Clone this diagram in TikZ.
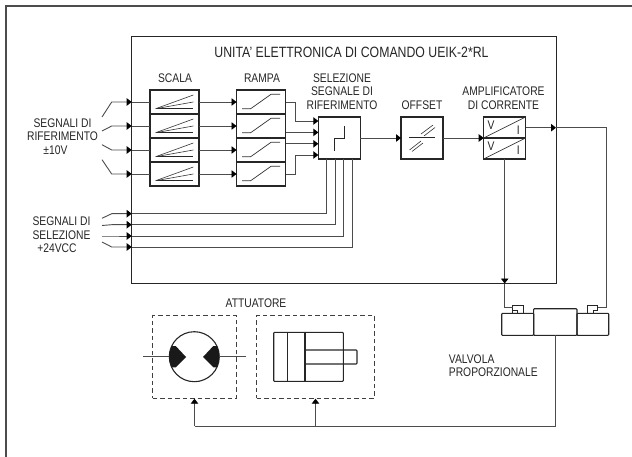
\documentclass[tikz,border=0pt]{standalone}
\usepackage{fontspec}
\setmainfont[FakeStretch=0.825]{Liberation Sans}
\usetikzlibrary{arrows.meta}

\begin{document}
\begin{tikzpicture}[%
  x=1pt, y=-1pt,
  line join=miter,
  lab/.style={inner sep=0pt, align=center, text=black!85, font=\fontsize{12.5}{13.4}\selectfont},
  conn/.style={line width=0.9pt, black!70},
  tip/.style={conn, -{Triangle[length=5pt,width=7.5pt,fill=black,color=black]}},
  box/.style={draw=black!85, line width=1.3pt, inner sep=0pt, outer sep=0pt, fill=white},
  scalabox/.style={box, minimum width=49pt, minimum height=24pt},
  rampabox/.style={box, minimum width=49pt, minimum height=24pt},
  squarebox/.style={box, minimum width=42pt, minimum height=42pt},
  dashbox/.style={draw=black!75, line width=0.8pt, dash pattern=on 4.5pt off 3pt, inner sep=0pt},
  partbox/.style={draw=black!85, line width=1.1pt, inner sep=0pt, outer sep=0pt, rounded corners=0.8pt},
  scalaicon/.pic={
    \draw[line width=1.4pt, black!85] (-18.8,6.7) -- (18.8,6.7);
    \draw[line width=0.6pt, black!80] (-18.8,6.7) -- (18.8,0);
    \draw[line width=0.6pt, black!80] (-18.8,6.7) -- (18.8,-7);
  },
  rampaicon/.pic={
    \draw[line width=0.7pt, black!80] (-19,6.7) -- (-10.3,6.7) -- (10,-7.7) -- (19,-7.7);
  }]

  \useasboundingbox (0,0) rectangle (632,457);
  \draw[line width=1.3pt, black!70] (6,457) -- (6,6) -- (632,6);

  % main unit
  \node[draw=black!85, line width=0.9pt, inner sep=0pt, outer sep=0pt,
    minimum width=424.5pt, minimum height=247.5pt] (unit) at (343.75,159.75) {};
  \node[lab, font=\fontsize{14.9}{16}\selectfont] (unitlab) at (351.5,52) {UNITA' ELETTRONICA DI COMANDO UEIK-2*RL};

  \node[lab] (scalalab) at (175,78) {SCALA};
  \node[lab] (rampalab) at (262,78) {RAMPA};
  \node[lab] (sellab) at (342,91.5) {SELEZIONE\\SEGNALE DI\\RIFERIMENTO};
  \node[lab] (offlab) at (422,105) {OFFSET};
  \node[lab] (amplab) at (503.5,98.3) {AMPLIFICATORE\\DI CORRENTE};
  \node[lab] (riflab) at (62.5,136.5) {SEGNALI DI\\RIFERIMENTO\\±10V\hspace*{14pt}};
  \node[lab] (sellab2) at (61.5,235) {SEGNALI DI\\SELEZIONE\\+24VCC\hspace*{9pt}};
  \node[lab] (attlab) at (256,303.5) {ATTUATORE};
  \node[lab, align=left, anchor=west] (vallab) at (448.7,365.5) {VALVOLA\\PROPORZIONALE};

  % scala and rampa blocks
  \node[scalabox] (scala1) at (174.5,102) {};
  \node[scalabox] (scala2) at (174.5,126) {};
  \node[scalabox] (scala3) at (174.5,150) {};
  \node[scalabox] (scala4) at (174.5,174) {};
  \pic at (scala1) {scalaicon};
  \pic at (scala2) {scalaicon};
  \pic at (scala3) {scalaicon};
  \pic at (scala4) {scalaicon};
  \node[rampabox] (rampa1) at (261,102) {};
  \node[rampabox] (rampa2) at (261,126) {};
  \node[rampabox] (rampa3) at (261,150) {};
  \node[rampabox] (rampa4) at (261,174) {};
  \pic at (rampa1) {rampaicon};
  \pic at (rampa2) {rampaicon};
  \pic at (rampa3) {rampaicon};
  \pic at (rampa4) {rampaicon};

  \node[squarebox] (sel) at (339.3,138) {};
  \node[squarebox, line width=1.8pt] (off) at (422,138) {};
  \node[squarebox] (amp) at (504.7,138) {};
  \draw[line width=1.3pt, black!85] (344.3,126) -- (344.3,138.3) -- (334.7,138.3) -- (334.7,151);
  \draw[line width=1.4pt, black!85] (409.3,137.7) -- (435,137.7);
  \draw[line width=0.6pt, black!80] (421,134) -- (433,125);
  \draw[line width=0.6pt, black!80] (424,136) -- (435,127.5);
  \draw[line width=0.6pt, black!80] (409.5,150) -- (421,141);
  \draw[line width=0.6pt, black!80] (412,151.5) -- (423,143);
  \draw[line width=1.6pt, black!85] (amp.west) -- (amp.east);
  \draw[line width=0.7pt, black!80] (amp.west) -- (amp.north east);
  \draw[line width=0.7pt, black!80] (amp.south west) -- (amp.east);
  \node[lab] (v1) at (491,125.7) {V};
  \node[lab] (i1) at (518.3,130.5) {I};
  \node[lab] (v2) at (491,146) {V};
  \node[lab] (i2) at (518.3,150.5) {I};

  % reference inputs
  \coordinate (ra1) at (102,117);
  \coordinate (rb1) at (111.7,102);
  \coordinate (rc1) at (131.7,102);
  \coordinate (ra2) at (102,131);
  \coordinate (rb2) at (111.7,126);
  \coordinate (rc2) at (131.7,126);
  \coordinate (ra3) at (102,144.7);
  \coordinate (rb3) at (111.7,150);
  \coordinate (rc3) at (131.7,150);
  \coordinate (ra4) at (102,159.7);
  \coordinate (rb4) at (111.7,174);
  \coordinate (rc4) at (131.7,174);
  \draw[tip] (ra1) -- (rb1) -- (rc1);
  \draw[tip] (ra2) -- (rb2) -- (rc2);
  \draw[tip] (ra3) -- (rb3) -- (rc3);
  \draw[tip] (ra4) -- (rb4) -- (rc4);
  \draw[conn] (rc1) -- (scala1.west);
  \draw[conn] (rc2) -- (scala2.west);
  \draw[conn] (rc3) -- (scala3.west);
  \draw[conn] (rc4) -- (scala4.west);
  \draw[tip] (scala1.east) -- (rampa1.west);
  \draw[tip] (scala2.east) -- (rampa2.west);
  \draw[tip] (scala3.east) -- (rampa3.west);
  \draw[tip] (scala4.east) -- (rampa4.west);

  % ramp outputs
  \coordinate (sa) at (295.7,121);
  \coordinate (sb) at (295.7,155);
  \draw[tip] (rampa1.east) -| (sa) -- (sel.west |- sa);
  \draw[tip] (rampa2.east |- 0,132.4) -- (sel.west |- 0,132.4);
  \draw[tip] (rampa3.east |- 0,143.8) -- (sel.west |- 0,143.8);
  \draw[tip] (rampa4.east) -| (sb) -- (sel.west |- sb);

  % selection inputs
  \coordinate (ta1) at (102,218.3);
  \coordinate (tb1) at (111.7,213.7);
  \coordinate (tc1) at (131.7,213.7);
  \coordinate (td1) at (326.7,213.7);
  \coordinate (ta2) at (102,225.5);
  \coordinate (tb2) at (111.7,224.7);
  \coordinate (tc2) at (131.7,224.7);
  \coordinate (td2) at (335,224.7);
  \coordinate (ta3) at (102,236);
  \coordinate (tb3) at (111.7,236);
  \coordinate (tc3) at (131.7,236);
  \coordinate (td3) at (343.7,236);
  \coordinate (ta4) at (102,242);
  \coordinate (tb4) at (111.7,247);
  \coordinate (tc4) at (131.7,247);
  \coordinate (td4) at (352,247);
  \draw[tip] (ta1) -- (tb1) -- (tc1);
  \draw[tip] (ta2) -- (tb2) -- (tc2);
  \draw[tip] (ta3) -- (tb3) -- (tc3);
  \draw[tip] (ta4) -- (tb4) -- (tc4);
  \draw[conn] (tc1) -- (td1) -- (td1 |- sel.south);
  \draw[conn] (tc2) -- (td2) -- (td2 |- sel.south);
  \draw[conn] (tc3) -- (td3) -- (td3 |- sel.south);
  \draw[conn] (tc4) -- (td4) -- (td4 |- sel.south);

  \draw[tip] (sel.east) -- (off.west);
  \draw[tip] (off.east) -- (amp.west);

  % valve
  \node[partbox, fill=white, minimum width=43.3pt, minimum height=26.6pt] (valvec) at (555.3,322) {};
  \node[partbox, minimum width=32pt, minimum height=22pt] (valvel) at (517.7,324.3) {};
  \node[partbox, minimum width=31.7pt, minimum height=22pt] (valver) at (592.85,324.3) {};
  \draw[line width=1pt, black!85] (512.7,313.3) -- (512.7,305) -- (523.3,305) -- (523.3,313.3) -- (517.3,313.3) -- (517.3,310) -- (512.7,310);
  \draw[line width=1pt, black!85] (597.7,310) -- (597.7,305) -- (587,305) -- (587,313.3) -- (593,313.3) -- (593,310) -- (597.7,310);

  % amplifier outputs
  \coordinate (outa) at (556,127.7);
  \coordinate (outb) at (606,127.7);
  \coordinate (outc) at (606,307);
  \coordinate (outd) at (597.7,307);
  \coordinate (oute) at (504.7,283.5);
  \coordinate (outf) at (504.7,307);
  \coordinate (outg) at (512.7,307);
  \draw[tip] (amp.east |- outa) -- (outa);
  \draw[conn] (outa) -- (outb) -- (outc) -- (outd);
  \draw[tip] (amp.south) -- (oute);
  \draw[conn] (oute) -- (outf) -- (outg);

  % actuators
  \node[dashbox, minimum width=83.6pt, minimum height=82.6pt] (act1) at (194.5,357) {};
  \node[dashbox, minimum width=117.6pt, minimum height=82.6pt] (act2) at (315.5,357) {};

  \coordinate (mota) at (143,356.7);
  \coordinate (motb) at (246,356.7);
  \node[circle, draw=black!85, line width=1.1pt, inner sep=0pt, outer sep=0pt, minimum size=50pt] (motor) at (194.3,356.7) {};
  \begin{scope}
    \clip (motor.center) circle (25);
    \fill[black!90] (186,357) -- (175.7,346) -- (165,346) -- (165,367.3) -- (175.7,367.3) -- cycle;
    \fill[black!90] (203,357) -- (213.3,346) -- (224,346) -- (224,367.3) -- (213.3,367.3) -- cycle;
  \end{scope}
  \draw[conn] (mota) -- (motor.west);
  \draw[conn] (motor.east) -- (motb);

  \node[partbox, minimum width=52pt, minimum height=14pt] (rod) at (331,357) {};
  \node[partbox, minimum width=69.6pt, minimum height=49pt] (cyl) at (308.5,356.8) {};
  \draw[line width=1.1pt, black!85] (287.7,332.3) -- (287.7,381.3);
  \draw[line width=1.1pt, black!85] (305,332.3) -- (305,381.3);

  % feedback to actuators
  \coordinate (fba) at (555.3,426);
  \coordinate (fbb) at (194.5,426);
  \coordinate (fbc) at (315.5,426);
  \draw[conn] (valvec.south |- valvel.south) -- (fba) -- (fbb);
  \draw[tip] (fbb) -- (act1.south);
  \draw[tip] (fbc) -- (act2.south);
\end{tikzpicture}
\end{document}
